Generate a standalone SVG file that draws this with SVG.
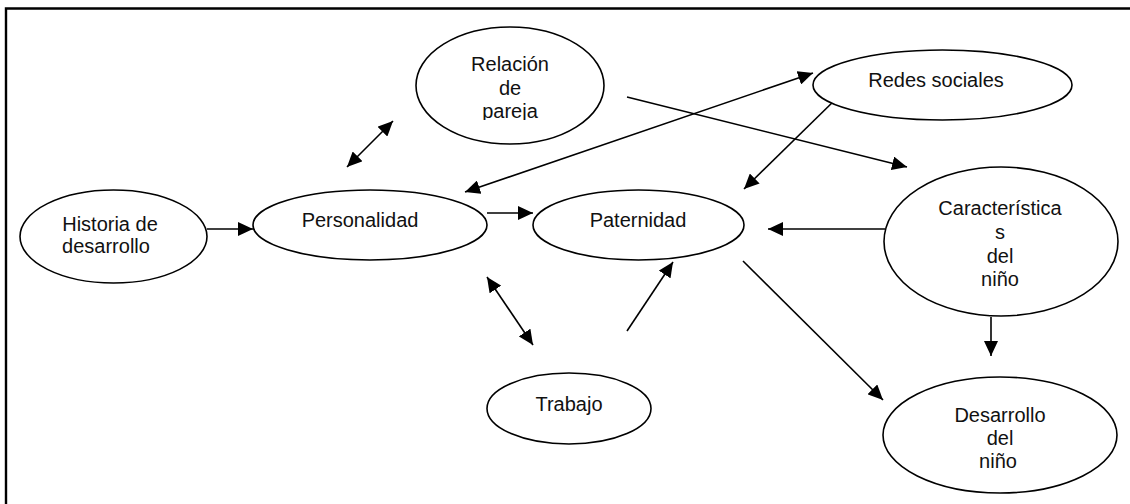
<svg xmlns="http://www.w3.org/2000/svg" width="1130" height="504" viewBox="0 0 1130 504">
<style>
.n ellipse{fill:#fff;stroke:#000;stroke-width:1.6}
text{font-family:"Liberation Sans",Arial,sans-serif;font-size:20px;fill:#111;text-anchor:middle}
#connectors line{stroke:#000;stroke-width:1.6}
.frame{stroke:#000;stroke-width:2.4;fill:none}
</style>
<defs>
<marker id="ah" markerUnits="userSpaceOnUse" markerWidth="16" markerHeight="14" refX="15" refY="7" orient="auto-start-reverse">
<path d="M0,0 L15,7 L0,14 z" fill="#000"/>
</marker>
<clipPath id="clipRel"><rect x="400" y="20" width="220" height="100"/></clipPath>
</defs>
<rect width="1130" height="504" fill="#fff"/>
<path class="frame" d="M1130,8.5 H6 V504"/>

<g id="connectors">
<line x1="207" y1="229" x2="253" y2="229" marker-end="url(#ah)"/>
<line x1="487" y1="213" x2="533" y2="213" marker-end="url(#ah)"/>
<line x1="347" y1="167" x2="393" y2="121" marker-start="url(#ah)" marker-end="url(#ah)"/>
<line x1="627" y1="97" x2="907" y2="167" marker-end="url(#ah)"/>
<line x1="465" y1="192" x2="813" y2="73" marker-start="url(#ah)" marker-end="url(#ah)"/>
<line x1="838" y1="97" x2="744" y2="189" marker-end="url(#ah)"/>
<line x1="885" y1="229" x2="768" y2="229" marker-end="url(#ah)"/>
<line x1="743" y1="261" x2="883" y2="400" marker-end="url(#ah)"/>
<line x1="991" y1="317" x2="991" y2="356" marker-end="url(#ah)"/>
<line x1="487" y1="277" x2="533" y2="345" marker-start="url(#ah)" marker-end="url(#ah)"/>
<line x1="627" y1="331" x2="673" y2="262" marker-end="url(#ah)"/>
</g>

<g id="historia" class="n">
<ellipse cx="113.5" cy="236.5" rx="93.5" ry="46.5"/>
<text x="110" y="231">Historia de</text>
<text x="106" y="253">desarrollo</text>
</g>
<g id="personalidad" class="n">
<ellipse cx="370" cy="225" rx="117" ry="35"/>
<text x="360" y="227">Personalidad</text>
</g>
<g id="paternidad" class="n">
<ellipse cx="638.5" cy="225" rx="105.5" ry="35"/>
<text x="638" y="227">Paternidad</text>
</g>
<g id="relacion" class="n">
<ellipse cx="510" cy="85.5" rx="94" ry="58.5"/>
<g clip-path="url(#clipRel)">
<text x="510" y="71">Relación</text>
<text x="510" y="95">de</text>
<text x="510" y="118">pareja</text>
</g>
</g>
<g id="redes" class="n">
<ellipse cx="942.5" cy="85" rx="129.5" ry="35"/>
<text x="936" y="87">Redes sociales</text>
</g>
<g id="caracteristicas" class="n">
<ellipse cx="1001" cy="241.5" rx="117" ry="74.5"/>
<text x="1000" y="215">Característica</text>
<text x="1000" y="239">s</text>
<text x="1000" y="263">del</text>
<text x="1000" y="286">niño</text>
</g>
<g id="desarrollo" class="n">
<ellipse cx="1000" cy="435" rx="117" ry="58"/>
<text x="1000" y="422">Desarrollo</text>
<text x="1000" y="445">del</text>
<text x="998" y="468">niño</text>
</g>
<g id="trabajo" class="n">
<ellipse cx="569" cy="408.5" rx="82" ry="35.5"/>
<text x="569" y="411">Trabajo</text>
</g>
</svg>
